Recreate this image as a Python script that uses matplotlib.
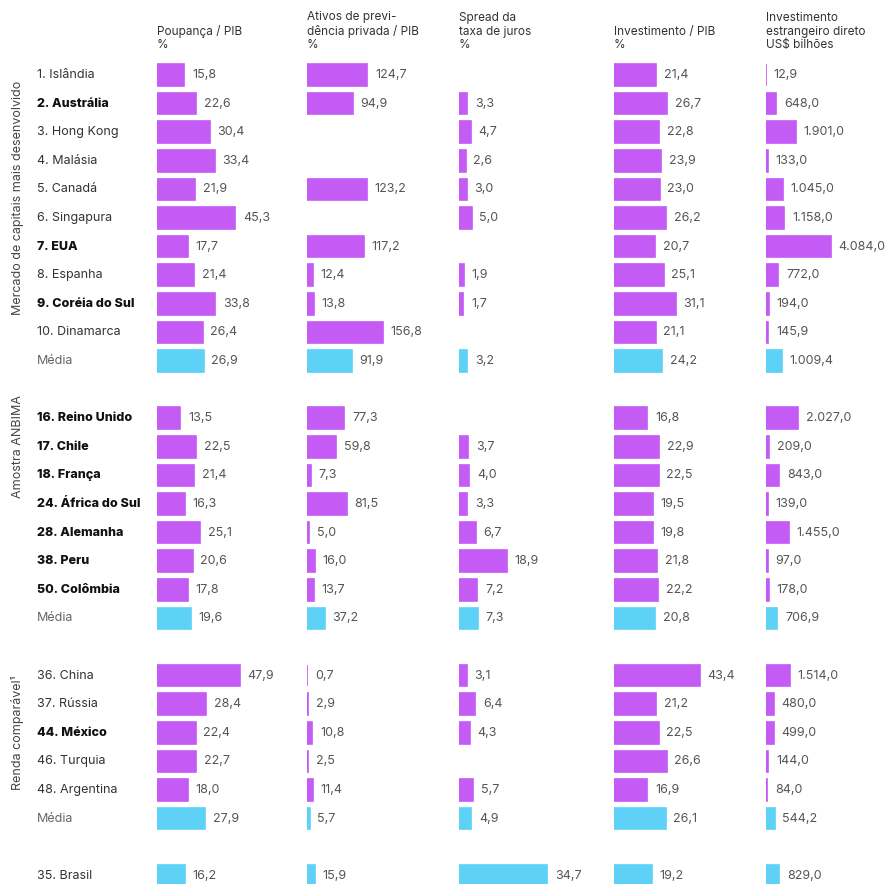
import numpy as np
import matplotlib
matplotlib.use("Agg")
import matplotlib.pyplot as plt
from matplotlib.transforms import blended_transform_factory

plt.rcParams['font.family'] = ['Inter', 'DejaVu Sans']

nan = np.nan

# row labels, grouped
grupo1 = ["1. Islândia", "2. Austrália", "3. Hong Kong", "4. Malásia", "5. Canadá",
          "6. Singapura", "7. EUA", "8. Espanha", "9. Coréia do Sul", "10. Dinamarca", "Média"]
grupo2 = ["16. Reino Unido", "17. Chile", "18. França", "24. África do Sul",
          "28. Alemanha", "38. Peru", "50. Colômbia", "Média"]
grupo3 = ["36. China", "37. Rússia", "44. México", "46. Turquia", "48. Argentina", "Média"]
brasil = ["35. Brasil"]

negrito = ["2. Austrália", "7. EUA", "9. Coréia do Sul", "16. Reino Unido", "17. Chile",
           "18. França", "24. África do Sul", "28. Alemanha", "38. Peru", "50. Colômbia",
           "44. México"]

grupo_titulos = ["Mercado de capitais mais desenvolvido", "Amostra ANBIMA", "Renda comparável¹"]

cabecalhos = ["Poupança / PIB\n%",
              "Ativos de previ-\ndência privada / PIB\n%",
              "Spread da\ntaxa de juros\n%",
              "Investimento / PIB\n%",
              "Investimento\nestrangeiro direto\nUS$ bilhões"]

# values per column, in row order (grupo1, grupo2, grupo3, brasil)
poupanca = [15.8, 22.6, 30.4, 33.4, 21.9, 45.3, 17.7, 21.4, 33.8, 26.4, 26.9,
            13.5, 22.5, 21.4, 16.3, 25.1, 20.6, 17.8, 19.6,
            47.9, 28.4, 22.4, 22.7, 18.0, 27.9,
            16.2]
previdencia = [124.7, 94.9, nan, nan, 123.2, nan, 117.2, 12.4, 13.8, 156.8, 91.9,
               77.3, 59.8, 7.3, 81.5, 5.0, 16.0, 13.7, 37.2,
               0.7, 2.9, 10.8, 2.5, 11.4, 5.7,
               15.9]
spread = [nan, 3.3, 4.7, 2.6, 3.0, 5.0, nan, 1.9, 1.7, nan, 3.2,
          nan, 3.7, 4.0, 3.3, 6.7, 18.9, 7.2, 7.3,
          3.1, 6.4, 4.3, nan, 5.7, 4.9,
          34.7]
investimento = [21.4, 26.7, 22.8, 23.9, 23.0, 26.2, 20.7, 25.1, 31.1, 21.1, 24.2,
                16.8, 22.9, 22.5, 19.5, 19.8, 21.8, 22.2, 20.8,
                43.4, 21.2, 22.5, 26.6, 16.9, 26.1,
                19.2]
ied = [12.9, 648.0, 1901.0, 133.0, 1045.0, 1158.0, 4084.0, 772.0, 194.0, 145.9, 1009.4,
       2027.0, 209.0, 843.0, 139.0, 1455.0, 97.0, 178.0, 706.9,
       1514.0, 480.0, 499.0, 144.0, 84.0, 544.2,
       829.0]

colunas = [poupanca, previdencia, spread, investimento, ied]

ROXO = "#C45BF4"
AZUL = "#5DD1F6"

W, H = 895, 884
fig = plt.figure(figsize=(W / 100, H / 100), dpi=100)

# row positions: groups separated by one blank row
labels, ypos = [], []
y = 0
for g in [grupo1, grupo2, grupo3, brasil]:
    for lab in g:
        labels.append(lab)
        ypos.append(y)
        y += 1
    y += 1
ypos = np.array(ypos)

row_px = 28.6
top_px = 75 - row_px / 2
ymin, ymax = -0.5, -0.5 + (H - top_px) / row_px

# column axes: left edge (px), px per unit
col_left = [157, 307, 459, 614, 766]
col_scale = [1.73, 0.485, 2.54, 1.98, 0.0159]
col_width = 135

axes = []
for i, vals in enumerate(colunas):
    ax = fig.add_axes([col_left[i] / W, 0, col_width / W, 1 - top_px / H])
    vals = np.array(vals)
    cores = [AZUL if (lab == "Média" or lab == "35. Brasil") else ROXO for lab in labels]
    ok = ~np.isnan(vals)
    ax.barh(ypos[ok], vals[ok], height=0.76, color=np.array(cores)[ok],
            edgecolor=np.array(cores)[ok], linewidth=1.2)
    for yy, v in zip(ypos[ok], vals[ok]):
        txt = f"{v:,.1f}".replace(",", "X").replace(".", ",").replace("X", ".")
        ax.annotate(txt, (v, yy), xytext=(5.5, 0), textcoords="offset points",
                    va="center", ha="left", fontsize=9, color="#555555")
    ax.set_xlim(0, col_width / col_scale[i])
    ax.set_ylim(ymax, ymin)
    ax.axis("off")
    fig.text(col_left[i] / W, 1 - 51 / H, cabecalhos[i], ha="left", va="bottom",
             fontsize=8.5, color="#333333", linespacing=1.15)
    axes.append(ax)

# row labels
tr = blended_transform_factory(fig.transFigure, axes[0].transData)
for lab, yy in zip(labels, ypos):
    if lab in negrito:
        axes[0].text(37 / W, yy, lab, transform=tr, ha="left", va="center",
                     fontsize=9, fontweight="heavy", color="#111111")
    elif lab == "Média":
        axes[0].text(37 / W, yy, lab, transform=tr, ha="left", va="center",
                     fontsize=9, color="#666666")
    else:
        axes[0].text(37 / W, yy, lab, transform=tr, ha="left", va="center",
                     fontsize=9, color="#333333")

# vertical group titles
centros = [4.3, 13.0, 23.0]
for t, c in zip(grupo_titulos, centros):
    axes[0].text(18 / W, c, t, transform=tr, rotation=90, ha="center", va="center",
                 fontsize=9, color="#444444")

fig.savefig("out.png", dpi=100, facecolor="white")
